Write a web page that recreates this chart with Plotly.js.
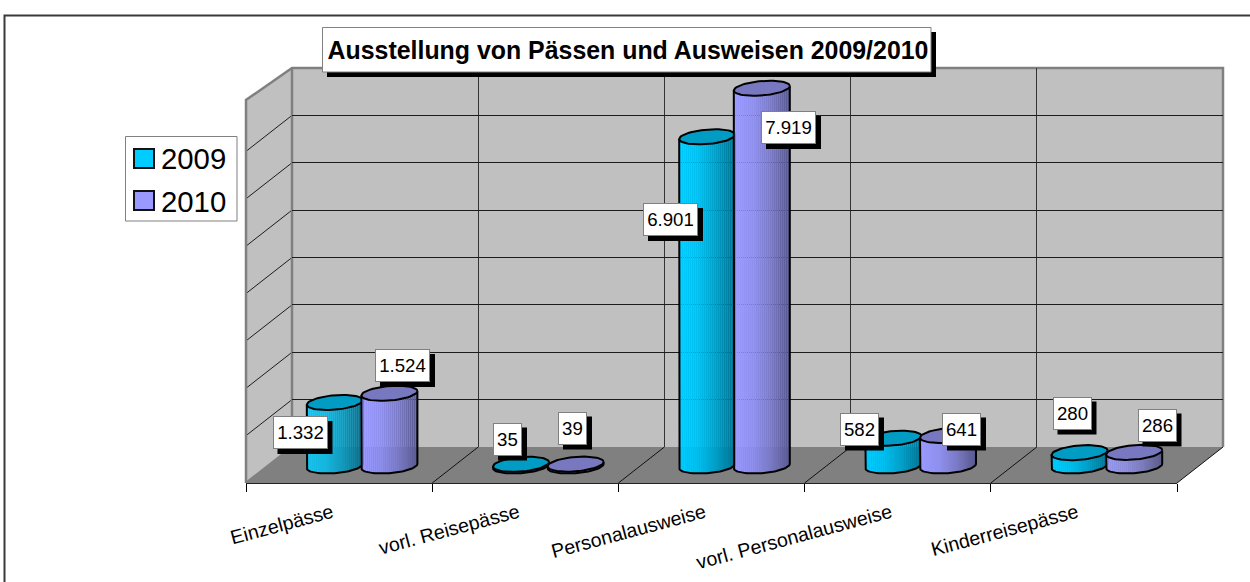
<!DOCTYPE html>
<html><head><meta charset="utf-8">
<script src="https://cdn.plot.ly/plotly-3.0.1.min.js"></script>
<style>html,body{margin:0;padding:0;background:#fff}#chart{width:1250px;height:582px}</style>
</head><body><div id="chart"></div>
<script>
// ---- data ----
const categories = ['Einzelpässe','vorl. Reisepässe','Personalausweise','vorl. Personalausweise','Kinderreisepässe'];
const seriesNames = ['2009','2010'];
const values2009 = [1332,35,6901,582,280];
const values2010 = [1524,39,7919,641,286];
const chartTitle = 'Ausstellung von Pässen und Ausweisen 2009/2010';
const gridValues = [0,1000,2000,3000,4000,5000,6000,7000,8000];

// ---- label box centres, in page pixels ----
const labelCentres2009 = [[300,432.5],[507.5,439],[670.5,219.5],[859.5,429],[1072,413]];
const labelCentres2010 = [[402.5,365.5],[572.5,428],[788.5,127.5],[961.5,429],[1157,425]];

// ---- page geometry ----
const W=1250,H=582;
const fx=x=>x/W, fy=y=>1-y/H;
const font='"Liberation Sans", Arial, sans-serif';
const wall={l:292,r:1223,t:68,b:447}, front={l:246,r:1177,b:483,t:100};
const wallColor='#C0C0C0', floorColor='#808080', edge='#808080', grid='#1c1c1c';
// cylinder plane
const cyl={l:269,r:1200,zero:466,per1000:47.7,top:40,bottom:520,a:28,b:7.2,skew:2.2,off:27.3};
const pxPerCat=(cyl.r-cyl.l)/5;
const dxU=p=>p/pxPerCat, dyU=p=>p/cyl.per1000*1000;
const yRange=[-dyU(cyl.bottom-cyl.zero),dyU(cyl.zero-cyl.top)];
const styles=[
 {side:['#00CCFF','#00BEEE','#009CC4','#00708F'],top:'#009CC4'},
 {side:['#9999FF','#8F8FEE','#7A7AC6','#585890'],top:'#7878C0'}
];
function hex(c){return [1,3,5].map(i=>parseInt(c.substr(i,2),16));}
function mix(stops,t){
  const p=t*(stops.length-1),i=Math.min(Math.floor(p),stops.length-2),f=p-i;
  const A=hex(stops[i]),B=hex(stops[i+1]);
  return 'rgb('+A.map((v,k)=>Math.round(v+(B[k]-v)*f)).join(',')+')';
}
function cylinderTraces(vals,idx,xa,ya){
  const st=styles[idx], sign=idx===0?-1:1, out=[];
  const sx=[],sy=[],sb=[],sc=[],sw=[];
  const step=2,n=Math.round(2*cyl.a/step);
  vals.forEach((v,c)=>{
    const cx=c+sign*dxU(cyl.off);
    for(let i=0;i<n;i++){
      const dx=-cyl.a+step*(i+.5), u=dx/cyl.a;
      const dep=dyU(cyl.b*Math.sqrt(Math.max(0,1-u*u))-cyl.skew*u);
      sx.push(cx+dxU(dx)); sb.push(-dep); sy.push(v+dep); sc.push(mix(st.side,i/(n-1))); sw.push(dxU(step));
    }
  });
  out.push({type:'bar',name:seriesNames[idx],x:sx,y:sy,base:sb,width:sw,marker:{color:sc,line:{width:0}},
    xaxis:xa,yaxis:ya,showlegend:false,hoverinfo:'skip',cliponaxis:false});
  vals.forEach((v,c)=>{
    const cx=c+sign*dxU(cyl.off), ox=[],oy=[],ex=[],ey=[];
    for(let k=0;k<=40;k++){
      const th=Math.PI*k/40, co=Math.cos(th), si=Math.sin(th);
      ox.push(cx-dxU(cyl.a*co)); oy.push(-dyU(cyl.b*si+cyl.skew*co));
    }
    const oxx=[cx-dxU(cyl.a),...ox,cx+dxU(cyl.a)];
    const oyy=[v-dyU(cyl.skew),...oy,v+dyU(cyl.skew)];
    out.push({type:'scatter',mode:'lines',x:oxx,y:oyy,line:{color:'#000',width:2},xaxis:xa,yaxis:ya,showlegend:false,hoverinfo:'skip',cliponaxis:false});
    for(let k=0;k<=60;k++){
      const th=2*Math.PI*k/60, co=Math.cos(th), si=Math.sin(th);
      ex.push(cx+dxU(cyl.a*co)); ey.push(v+dyU(cyl.b*si+cyl.skew*co));
    }
    out.push({type:'scatter',mode:'lines',x:ex,y:ey,fill:'toself',fillcolor:st.top,line:{color:'#000',width:2},xaxis:xa,yaxis:ya,showlegend:false,hoverinfo:'skip',cliponaxis:false});
  });
  return out;
}
const traces=[...cylinderTraces(values2009,0,'x2','y2'),...cylinderTraces(values2010,1,'x3','y3')];

// ---- static shapes ----
const shapes=[];
const path=(pts,fill,color,width,layer)=>shapes.push({type:'path',xref:'paper',yref:'paper',layer:layer||'below',
  path:'M'+pts.map(p=>fx(p[0])+','+fy(p[1])).join('L')+(fill?'Z':''),fillcolor:fill||'rgba(0,0,0,0)',line:{color:color,width:width}});
const box=(x0,y0,x1,y1,fill,color,width,layer)=>shapes.push({type:'rect',xref:'paper',yref:'paper',layer:layer||'below',
  x0:fx(x0),x1:fx(x1),y0:fy(y1),y1:fy(y0),fillcolor:fill,line:{color:color,width:width}});
// outer frame (top and left only)
path([[4.5,582],[4.5,15.5],[1250,15.5]],null,'#3a3a3a',2);
// walls
box(wall.l,wall.t,wall.r,wall.b,wallColor,'rgba(0,0,0,0)',0);
path([[front.l,front.t],[wall.l,wall.t],[wall.l,wall.b],[front.l,front.b]],wallColor,'rgba(0,0,0,0)',0);
path([[front.l,front.b],[front.r,front.b],[wall.r,wall.b],[wall.l,wall.b]],floorColor,'rgba(0,0,0,0)',0);
// grid running across the left wall
gridValues.slice(1,-1).forEach(v=>{
  const y=wall.b-(wall.b-wall.t)*v/8000;
  path([[wall.l,y],[front.l,y+(front.b-wall.b)]],null,grid,1);
});
// division lines across the floor
for(let i=1;i<=5;i++){
  const x=front.l+i*pxPerCat;
  path([[x,front.b],[x+wall.l-front.l,wall.b]],null,'#111',1);
}
// grey wall edges
path([[front.l,front.b],[front.l,front.t],[wall.l,wall.t],[wall.r,wall.t],[wall.r,wall.b]],null,edge,2.5);
path([[wall.l,wall.t],[wall.l,wall.b],[front.l,front.b]],null,edge,2.5);

// above-layer boxes: title
box(327,32,936,77,'#000','#000',0,'above');
box(322.5,27.5,931,72,'#fff','#808080',1,'above');
// legend
box(125.5,136.5,237,221,'#fff','#808080',1,'above');
box(134,149,154,168,'#00CCFF','#111',2,'above');
box(134,191,154,210,'#9999FF','#111',2,'above');

// ---- text ----
const fmt=v=>String(v).replace(/\B(?=(\d{3})+$)/g,'.');
const ann=[];
function dataLabel(v,c){
  const t=fmt(v), w=t.length>3?55:(t.length===3?39:29), h=33;
  box(c[0]-w/2+5,c[1]-h/2+5,c[0]+w/2+5,c[1]+h/2+5,'#000','#000',0,'above');
  ann.push({xref:'paper',yref:'paper',x:fx(c[0]),y:fy(c[1]),xanchor:'center',yanchor:'middle',showarrow:false,
    width:w-2,height:h-2,align:'center',valign:'middle',borderwidth:1,borderpad:0,
    text:t,font:{family:font,size:18.67,color:'#000'},bgcolor:'#fff',bordercolor:'#808080'});
}
values2009.forEach((v,i)=>dataLabel(v,labelCentres2009[i]));
values2010.forEach((v,i)=>dataLabel(v,labelCentres2010[i]));
seriesNames.forEach((s,i)=>ann.push({xref:'paper',yref:'paper',x:fx(159),y:fy(159+42*i),xanchor:'left',yanchor:'middle',
  showarrow:false,text:s,font:{family:font,size:29.33,color:'#000'}}));

const hidden=(dom,range)=>({domain:dom,range:range,visible:false,fixedrange:true});
const layout={
  width:W,height:H,margin:{l:0,r:0,t:0,b:0,pad:0},paper_bgcolor:'#fff',plot_bgcolor:'rgba(0,0,0,0)',
  showlegend:false,barmode:'overlay',hovermode:false,
  title:{text:chartTitle,font:{family:font,size:24.9,color:'#000',weight:'bold'},xref:'paper',yref:'paper',
    x:fx(628),xanchor:'center',y:fy(50),yanchor:'middle',pad:{t:0,b:0,l:0,r:0}},
  // back wall: real gridlines
  xaxis:{domain:[fx(wall.l),fx(wall.r)],range:[-.5,4.5],tick0:-.5,dtick:1,showgrid:true,gridcolor:'#333',gridwidth:1,
    zeroline:false,showticklabels:false,ticks:'',showline:false,anchor:'y',fixedrange:true},
  yaxis:{domain:[fy(wall.b),fy(wall.t)],range:[0,8000],tickvals:gridValues,showgrid:true,gridcolor:grid,gridwidth:1,
    zeroline:false,showticklabels:false,ticks:'',showline:false,anchor:'x',fixedrange:true},
  // cylinder planes
  xaxis2:hidden([fx(cyl.l),fx(cyl.r)],[-.5,4.5]),
  yaxis2:hidden([fy(cyl.bottom),fy(cyl.top)],yRange),
  xaxis3:hidden([fx(cyl.l),fx(cyl.r)],[-.5,4.5]),
  yaxis3:hidden([fy(cyl.bottom),fy(cyl.top)],yRange),
  // front category axis
  xaxis4:{domain:[fx(front.l),fx(front.r)],type:'category',categoryorder:'array',categoryarray:categories,range:[-.5,4.5],
    tickson:'boundaries',ticks:'outside',ticklen:8,tickwidth:1,tickcolor:'#000',showline:true,linecolor:'#222',linewidth:1,
    showgrid:false,zeroline:false,tickangle:-15,ticklabelstandoff:10,ticklabelshift:-7,
    tickfont:{family:font,size:19.6,color:'#000'},anchor:'y4',fixedrange:true},
  yaxis4:{domain:[fy(front.b),1],range:[0,1],visible:false,anchor:'x4',fixedrange:true},
  shapes:shapes,annotations:ann
};
traces.push({type:'scatter',mode:'markers',x:categories,y:categories.map(()=>0),xaxis:'x4',yaxis:'y4',marker:{opacity:0,size:1},showlegend:false,hoverinfo:'skip'});
traces.unshift({type:'scatter',mode:'markers',x:[],y:[],xaxis:'x',yaxis:'y',showlegend:false,hoverinfo:'skip'});
Plotly.newPlot('chart',traces,layout,{displayModeBar:false,staticPlot:true});
</script></body></html>
